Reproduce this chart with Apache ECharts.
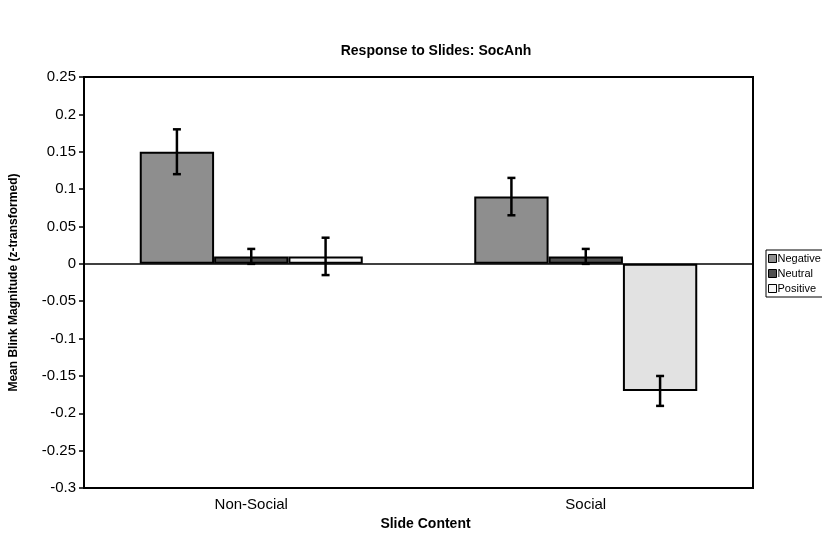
<!DOCTYPE html>
<html>
<head>
<meta charset="utf-8">
<script src="https://cdn.jsdelivr.net/npm/echarts@6/dist/echarts.min.js"></script>
<style>
html,body{margin:0;padding:0;background:#fff;}
#chart{width:822px;height:536px;}
</style>
</head>
<body>
<div id="chart"></div>
<script>
// ---- data ----
const categories = ['Non-Social', 'Social'];
const seriesNames = ['Negative', 'Neutral', 'Positive'];
const negative = [0.15, 0.09];
const neutral = [0.01, 0.01];
const positive = [0.01, -0.17];
const negativeErr = [0.03, 0.025];
const neutralErr = [0.01, 0.01];
const positiveErr = [0.025, 0.02];
const yTickMin = -0.3;
const yTickMax = 0.25;
const yTickStep = 0.05;

// ---- styles ----
const FONT = '"Liberation Sans", Arial, sans-serif';
const colors = ['#8e8e8e', '#4f4f4f', '#f6f6f6'];
const positiveItemColors = ['#f6f6f6', '#e2e2e2'];
const CAT_GAP = 1 / 3;

const values = [negative, neutral, positive];
const errs = [negativeErr, neutralErr, positiveErr];

const chart = echarts.init(document.getElementById('chart'), null, {renderer: 'canvas'});

const barSeries = values.map((vals, s) => ({
  name: seriesNames[s],
  type: 'bar',
  barGap: '0%',
  barCategoryGap: (CAT_GAP * 100) + '%',
  data: vals.map((v, i) => s === 2 ? {value: v, itemStyle: {color: positiveItemColors[i]}} : v),
  itemStyle: {color: colors[s], borderColor: '#000', borderWidth: 2},
  emphasis: {disabled: true},
  z: 2,
  markLine: s === 0 ? {
    silent: true,
    symbol: 'none',
    label: {show: false},
    lineStyle: {color: '#000', width: 1.5, type: 'solid'},
    data: [{yAxis: 0}],
    z: 1
  } : undefined
}));

const errSeries = values.map((vals, s) => ({
  name: seriesNames[s] + ' err',
  type: 'custom',
  z: 5,
  silent: true,
  data: vals.map((v, i) => [i, v - errs[s][i], v + errs[s][i]]),
  encode: {x: 0, y: [1, 2]},
  renderItem: function (params, api) {
    const idx = api.value(0);
    const lo = api.coord([idx, api.value(1)]);
    const hi = api.coord([idx, api.value(2)]);
    const band = api.size([1, 0])[0];
    const barW = band * (1 - CAT_GAP) / 3;
    const x = lo[0] + (s - 1) * barW;
    const cap = 4;
    const style = {stroke: '#000', lineWidth: 2.5};
    return {
      type: 'group',
      children: [
        {type: 'line', shape: {x1: x, y1: lo[1], x2: x, y2: hi[1]}, style: style},
        {type: 'line', shape: {x1: x - cap, y1: lo[1], x2: x + cap, y2: lo[1]}, style: style},
        {type: 'line', shape: {x1: x - cap, y1: hi[1], x2: x + cap, y2: hi[1]}, style: style}
      ]
    };
  }
}));

chart.setOption({
  animation: false,
  backgroundColor: '#fff',
  title: {
    text: 'Response to Slides: SocAnh',
    left: 431,
    top: 39,
    textAlign: 'center',
    textStyle: {fontFamily: FONT, fontSize: 14, fontWeight: 'bold', color: '#000'}
  },
  legend: {
    orient: 'vertical',
    left: 766,
    top: 250,
    data: seriesNames.map(n => ({name: n, icon: 'rect'})),
    itemWidth: 8,
    itemHeight: 8,
    itemGap: 4,
    padding: [3, 3, 3, 2],
    borderColor: '#000',
    borderWidth: 1,
    selectedMode: false,
    textStyle: {fontFamily: FONT, fontSize: 11, color: '#000', padding: [0, 0, 0, -4]},
    itemStyle: {borderColor: '#000', borderWidth: 1}
  },
  grid: {
    left: 82, right: 69, top: 77, bottom: 44,
    show: true, borderColor: '#000', borderWidth: 2, backgroundColor: 'transparent'
  },
  xAxis: {
    type: 'category',
    data: categories,
    axisLine: {show: false},
    axisTick: {show: false},
    axisLabel: {fontFamily: FONT, fontSize: 15, color: '#000', margin: 9},
    name: 'Slide Content',
    nameLocation: 'middle',
    nameGap: 27,
    nameTextStyle: {fontFamily: FONT, fontSize: 14, fontWeight: 'bold', color: '#000', padding: [0, 0, 0, 14]},
    splitLine: {show: false}
  },
  yAxis: {
    type: 'value',
    min: yTickMin,
    max: yTickMax,
    interval: yTickStep,
    axisLine: {show: true, lineStyle: {color: '#000', width: 2}},
    axisTick: {show: true, inside: false, length: 5, lineStyle: {color: '#000', width: 1.5}},
    axisLabel: {fontFamily: FONT, fontSize: 15, color: '#000', margin: 8},
    splitLine: {show: false},
    name: 'Mean Blink Magnitude (z-transformed)',
    nameLocation: 'middle',
    nameGap: 64,
    nameRotate: 90,
    nameTextStyle: {fontFamily: FONT, fontSize: 12, fontWeight: 'bold', color: '#000'}
  },
  series: barSeries.concat(errSeries)
});
</script>
</body>
</html>
